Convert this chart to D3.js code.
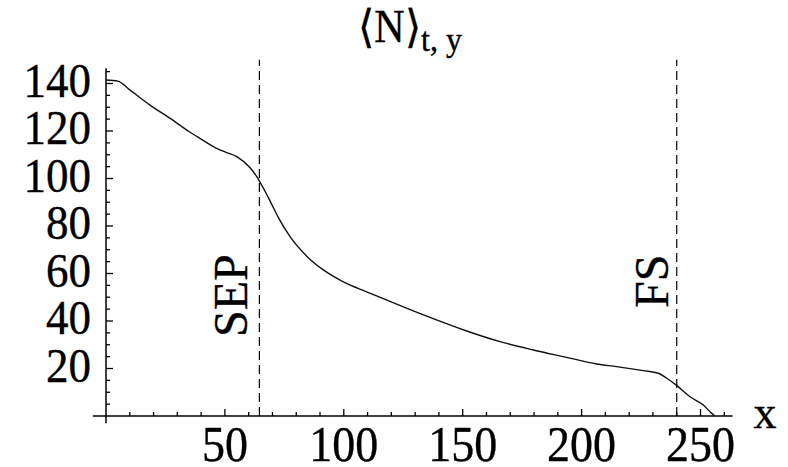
<!DOCTYPE html>
<html>
<head>
<meta charset="utf-8">
<script src="https://cdn.jsdelivr.net/npm/d3@7"></script>
<style>
  html, body { margin: 0; padding: 0; background: #fff; }
  svg { display: block; }
  text { font-family: "Liberation Serif", "Times New Roman", serif; fill: #000; stroke: #000; stroke-width: 0.35; }
</style>
</head>
<body>
<svg id="chart" width="788" height="467"></svg>
<script>
// ---- data ----
const xValues = [0, 5, 10, 18.5, 27, 35, 39.5, 46.5, 50.7, 55, 60.6, 63.4, 66.2, 69, 72.5, 77.4, 84.4, 91.4, 99.8, 109.6, 119.4, 129.2, 137.6, 151.7, 165.7, 179.7, 193.7, 206.3, 214.7, 225.9, 232.3, 235.8, 239.7, 245.6, 251.2, 254.7, 256];
const nValues = [141.5, 141, 137.3, 130.9, 125.3, 119.7, 116.9, 112.7, 110.9, 109.2, 104.5, 100.8, 95.9, 90.5, 83.5, 75.5, 67.3, 61.5, 56.5, 52.3, 48.3, 44.3, 41.0, 35.8, 31.3, 27.8, 24.7, 21.9, 20.8, 19.1, 18, 15.9, 13.1, 8.1, 4.6, 1.1, 0];
const xTickLabels = [50, 100, 150, 200, 250];
const yTickLabels = [20, 40, 60, 80, 100, 120, 140];
const markerX = [64.5, 240];
const markerLabels = ["SEP", "FS"];

// ---- scales ----
const x = d3.scaleLinear().domain([0, 250]).range([106, 700.5]);
const y = d3.scaleLinear().domain([0, 140]).range([416, 83.5]);

const svg = d3.select("#chart");

// axes lines
svg.append("line")
  .attr("x1", x(-5.5)).attr("x2", x(263.5))
  .attr("y1", y(0)).attr("y2", y(0))
  .attr("stroke", "#000").attr("stroke-width", 1.5);
svg.append("line")
  .attr("x1", x(0)).attr("x2", x(0))
  .attr("y1", y(-3)).attr("y2", y(146.4))
  .attr("stroke", "#000").attr("stroke-width", 1.5);

// x ticks
const xMinor = d3.range(10, 261, 10);
svg.append("g").selectAll("line").data(xMinor).join("line")
  .attr("x1", d => x(d)).attr("x2", d => x(d))
  .attr("y1", y(0)).attr("y2", d => y(0) - (d % 50 === 0 ? 7 : 4))
  .attr("stroke", "#000").attr("stroke-width", 1.3);
// y ticks
const yMinor = d3.range(5, 146, 5);
svg.append("g").selectAll("line").data(yMinor).join("line")
  .attr("x1", x(0)).attr("x2", d => x(0) + (d % 20 === 0 ? 7 : 4))
  .attr("y1", d => y(d)).attr("y2", d => y(d))
  .attr("stroke", "#000").attr("stroke-width", 1.3);

// tick labels
svg.append("g").selectAll("text").data(xTickLabels).join("text")
  .attr("transform", d => `translate(${x(d)},461) scale(1,1.1)`)
  .attr("text-anchor", "middle")
  .attr("font-size", 46)
  .text(d => d);
svg.append("g").selectAll("text").data(yTickLabels).join("text")
  .attr("transform", d => `translate(91,${y(d) + 13}) scale(1,1.1)`)
  .attr("text-anchor", "end")
  .attr("font-size", 45)
  .text(d => d);

// axis label x
svg.append("text").attr("x", 765).attr("y", 428)
  .attr("text-anchor", "middle").attr("font-size", 46).text("x");

// title
const title = svg.append("text").attr("transform", "translate(358,42) scale(1,1.08)").attr("font-size", 42);
title.append("tspan").text("\u27E8N\u27E9");
title.append("tspan").attr("font-size", 32).attr("dy", 8).text("t, y");

// marker lines
svg.append("g").selectAll("line").data(markerX).join("line")
  .attr("x1", d => x(d)).attr("x2", d => x(d))
  .attr("y1", y(0)).attr("y2", y(150))
  .attr("stroke", "#000").attr("stroke-width", 1.2)
  .attr("stroke-dasharray", "9,5");

// marker labels
const labelPos = [[247, 337], [668, 308]];
svg.append("g").selectAll("text").data(markerLabels).join("text")
  .attr("transform", (d, i) => `translate(${labelPos[i][0]},${labelPos[i][1]}) rotate(-90)`)
  .attr("font-size", 48)
  .text(d => d);

// curve
const line = d3.line()
  .x((d, i) => x(xValues[i]))
  .y(d => y(d))
  .curve(d3.curveMonotoneX);
svg.append("path")
  .datum(nValues)
  .attr("d", line)
  .attr("fill", "none")
  .attr("stroke", "#111")
  .attr("stroke-width", 1.4);
</script>
</body>
</html>
